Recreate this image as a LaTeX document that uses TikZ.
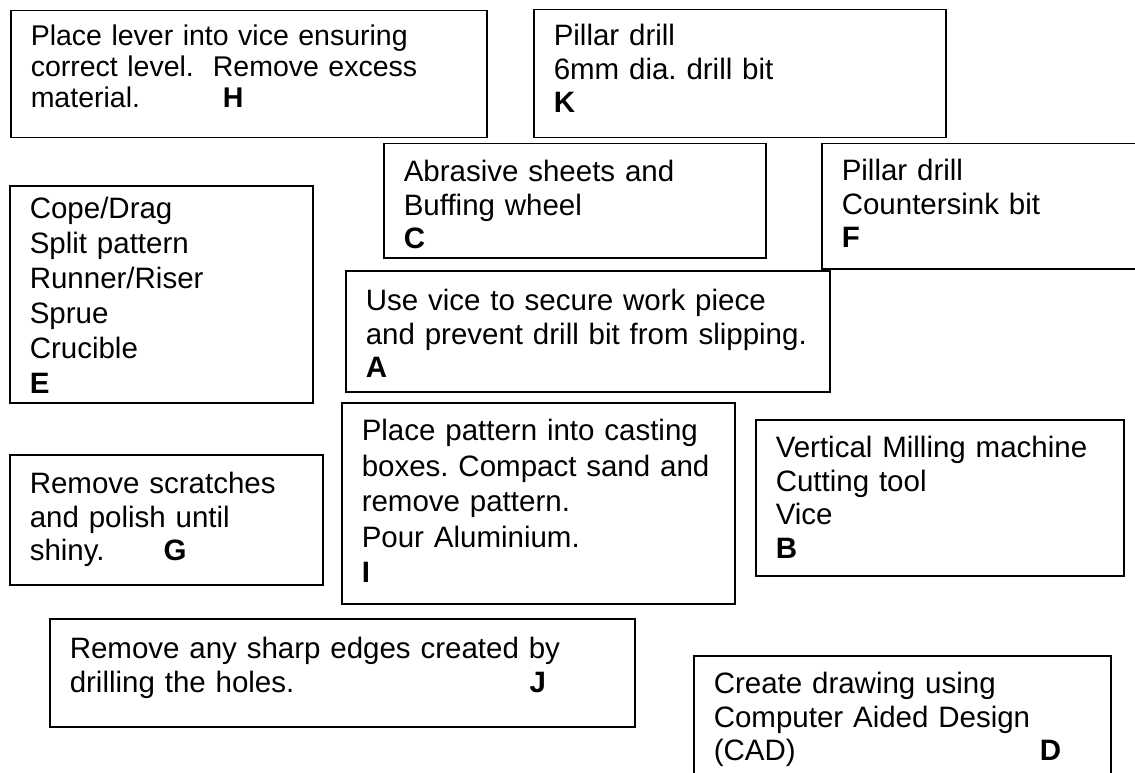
\documentclass[tikz,border=0pt]{standalone}
\usepackage{fontspec}
\setmainfont{Liberation Sans}
\frenchspacing
\usetikzlibrary{positioning}
\tikzset{card/.style={draw,line width=1.5pt,anchor=north west,align=left,inner xsep=20pt,inner ysep=0pt,font=\fontsize{29.5}{33.5}\selectfont}}

\begin{document}
\begin{tikzpicture}[x=1pt,y=-1pt]
		\useasboundingbox (0,0) rectangle (1135,773);
		\node[card,font=\fontsize{28.5}{31}\selectfont,text width=436pt,text height=35pt,text depth=92pt] (H) at (10,10) {Place lever into vice ensuring\\correct level.\ \ Remove excess\\\makebox[192pt][l]{material.}\textbf{H}};
		\node[card,text width=372pt,text height=36pt,text depth=92pt] (K) at (533,9) {Pillar drill\\6mm dia. drill bit\\\textbf{K}};
		\node[card,text width=342pt,text height=38pt,text depth=76pt] (C) at (383,143) {Abrasive sheets and\\Buffing wheel\\\textbf{C}};
		\node[card,text width=300pt,text height=37pt,text depth=88pt] (F) at (821,143) {Pillar drill\\Countersink bit\\\textbf{F}};
		\node[card,font=\fontsize{29.5}{35}\selectfont,text width=263pt,text height=33pt,text depth=184pt] (E) at (9,185) {Cope/Drag\\Split pattern\\Runner/Riser\\Sprue\\Crucible\\\textbf{E}};
		\node[card,text width=444pt,text height=40pt,text depth=81pt] (A) at (345,270) {Use vice to secure work piece\\and prevent drill bit from slipping.\\\textbf{A}};
		\node[card,font=\fontsize{29.5}{35.5}\selectfont,text width=353pt,text height=38pt,text depth=163pt] (I) at (341,402) {Place pattern into casting\\boxes. Compact sand and\\remove pattern.\\Pour Aluminium.\\\textbf{I}};
		\node[card,text width=273pt,text height=39pt,text depth=91pt] (G) at (9,454) {Remove scratches\\and polish until\\\makebox[134pt][l]{shiny.}\textbf{G}};
		\node[card,text width=328pt,text height=38pt,text depth=118pt] (B) at (755,419) {Vertical Milling machine\\Cutting tool\\Vice\\\textbf{B}};
		\node[card,text width=545pt,text height=40pt,text depth=68pt] (J) at (49,618) {Remove any sharp edges created by\\\makebox[460pt][l]{drilling the holes.}\textbf{J}};
		\node[card,text width=377pt,text height=38pt,text depth=112pt] (D) at (693,655) {Create drawing using\\Computer Aided Design\\\makebox[326pt][l]{(CAD)}\textbf{D}};
	\end{tikzpicture}
\end{document}
